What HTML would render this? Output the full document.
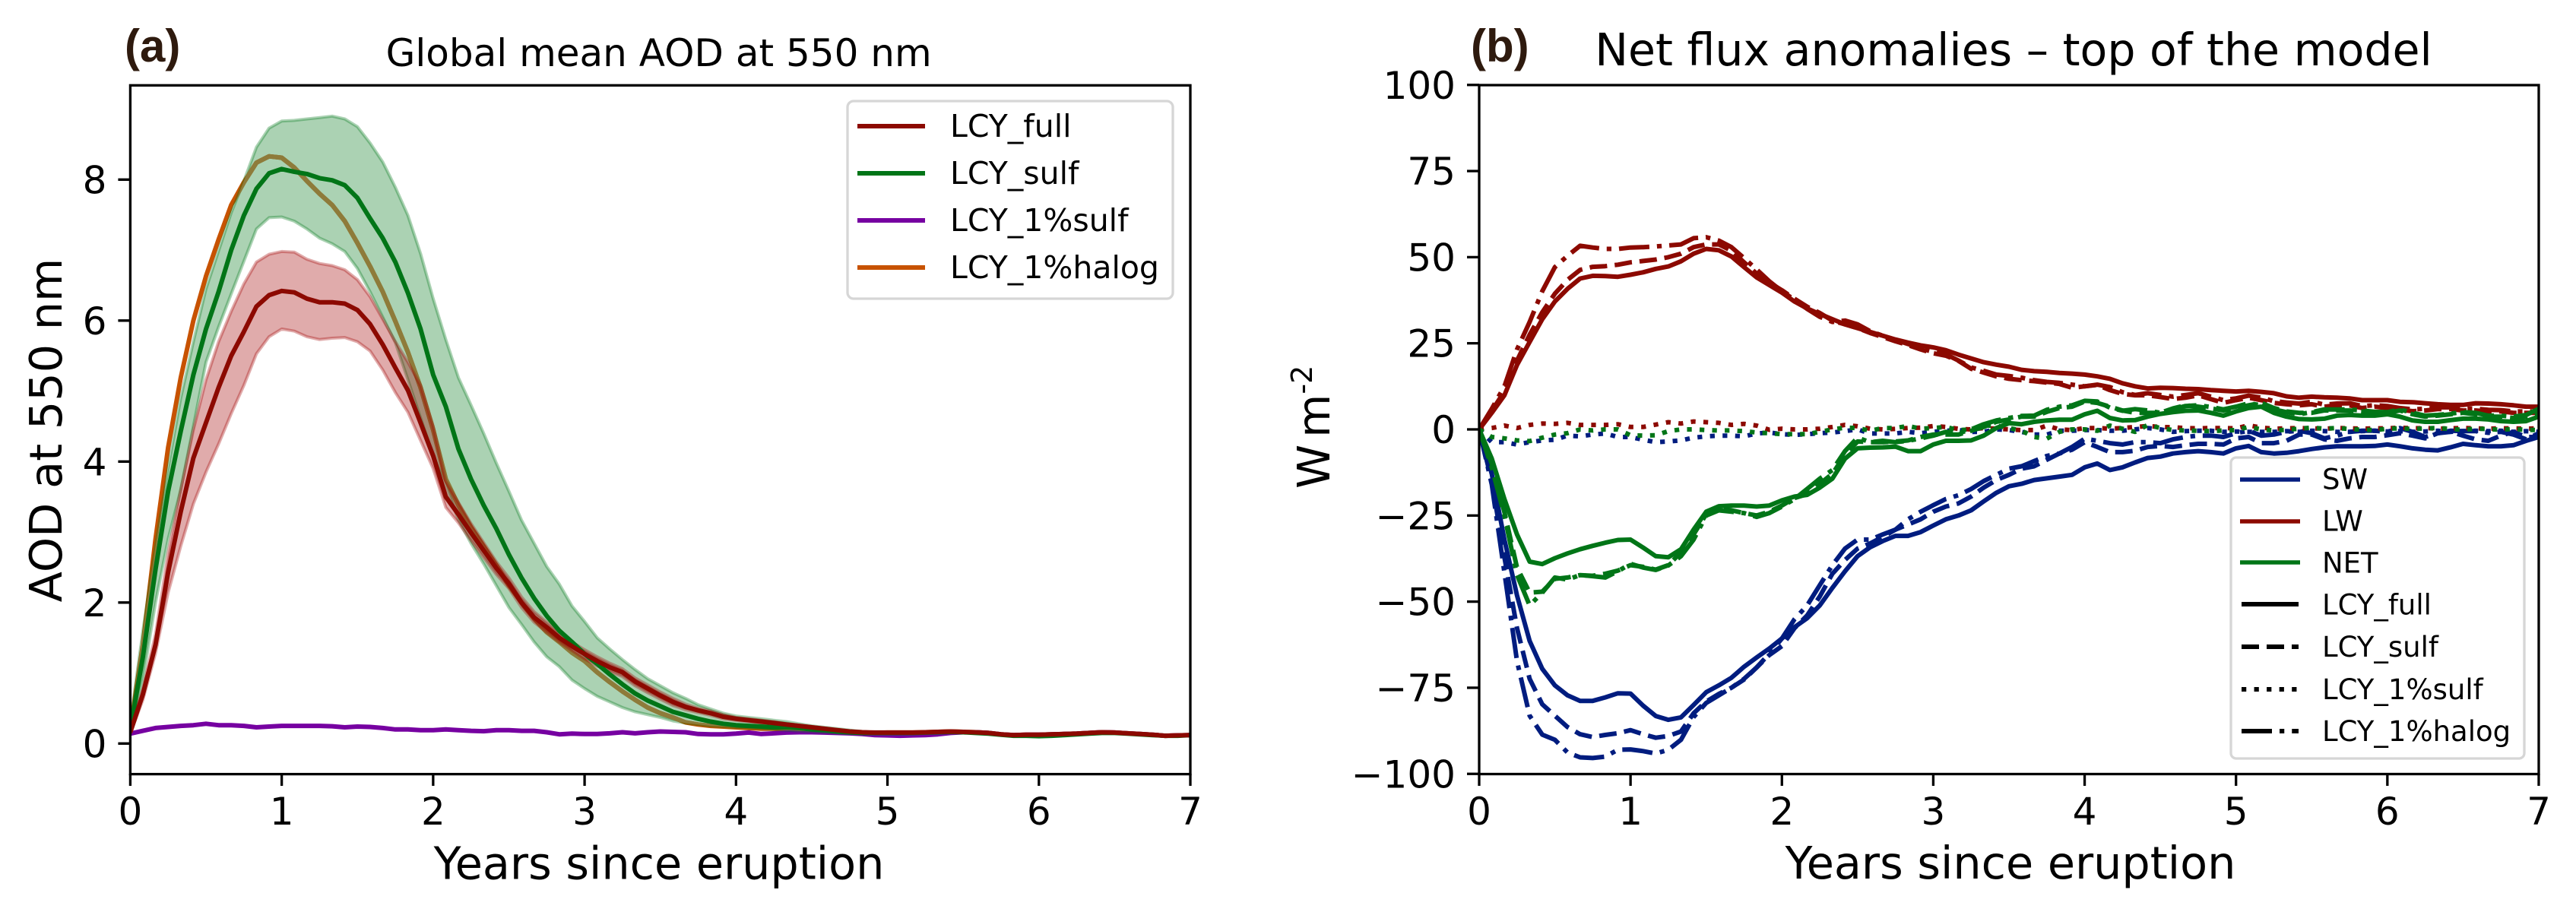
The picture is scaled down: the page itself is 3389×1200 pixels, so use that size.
<!DOCTYPE html>
<html lang="en">
<head>
<meta charset="utf-8">
<title>Global mean AOD and net flux anomalies</title>
<style>
html,body{margin:0;padding:0;background:#fff;width:3389px;height:1200px;overflow:hidden}
svg{display:block}
text{font-family:"DejaVu Sans",sans-serif;fill:#000}
.tick{font-size:50px}
.axl{font-size:58.8px}
.leg-a{font-size:41px}
.leg-b{font-size:37px}
.panel{font-family:"Liberation Sans",sans-serif;font-weight:700;font-size:60px;fill:#2e1a0e}
</style>
</head>
<body>
<svg id="figure" xmlns="http://www.w3.org/2000/svg" width="3389" height="1200" viewBox="0 0 3389 1200">
  <defs id="defs">
    <clipPath id="clip-a"><rect x="171.4" y="112.3" width="1394.6" height="906.3"/></clipPath>
    <clipPath id="clip-b"><rect x="1946" y="112" width="1394" height="906.5"/></clipPath>
  </defs>
  <rect x="0" y="0" width="3389" height="1200" fill="#fff"/>

  <g id="marks-a" clip-path="url(#clip-a)"></g>
  <g id="marks-b" clip-path="url(#clip-b)"></g>
  <g id="ticks"></g>

  <rect x="171.4" y="112.3" width="1394.6" height="906.3" fill="none" stroke="#000" stroke-width="3.3"/>
  <rect x="1946" y="112" width="1394" height="906.5" fill="none" stroke="#000" stroke-width="3.3"/>

  <text class="panel" x="164" y="81">(a)</text>
  <text x="866.7" y="87" font-size="50" text-anchor="middle">Global mean AOD at 550 nm</text>
  <text class="axl" x="867" y="1156.5" text-anchor="middle">Years since eruption</text>
  <text class="axl" transform="translate(81,566) rotate(-90)" text-anchor="middle">AOD at 550 nm</text>

  <text class="panel" x="1935" y="81">(b)</text>
  <text x="2649" y="86" font-size="58.5" text-anchor="middle">Net flux anomalies – top of the model</text>
  <text class="axl" x="2645" y="1156" text-anchor="middle">Years since eruption</text>
  <text class="axl" transform="translate(1749,643) rotate(-90)">W<tspan dx="9">m</tspan><tspan dy="-23" font-size="38">-2</tspan></text>

  <g>
    <rect x="1115" y="133" width="428" height="260" rx="8" ry="8" fill="#fff" fill-opacity=".8" stroke="#d6d6d6" stroke-width="3.3"/>
    <g><line x1="1128" x2="1217" y1="166" y2="166" stroke="#8C0900" stroke-width="6"/><text class="leg-a" x="1250" y="180">LCY_full</text></g>
    <g><line x1="1128" x2="1217" y1="228" y2="228" stroke="#017517" stroke-width="6"/><text class="leg-a" x="1250" y="242">LCY_sulf</text></g>
    <g><line x1="1128" x2="1217" y1="290" y2="290" stroke="#7600A1" stroke-width="6"/><text class="leg-a" x="1250" y="304">LCY_1%sulf</text></g>
    <g><line x1="1128" x2="1217" y1="352" y2="352" stroke="#C75200" stroke-width="6"/><text class="leg-a" x="1250" y="366">LCY_1%halog</text></g>
  </g>

  <g>
    <rect x="2935" y="602" width="386" height="396" rx="7" ry="7" fill="#fff" fill-opacity=".8" stroke="#d6d6d6" stroke-width="3.3"/>
    <g><line x1="2947" x2="3026" y1="631" y2="631" stroke="#001C7F" stroke-width="5.6"/><text class="leg-b" x="3055" y="643.5">SW</text></g>
    <g><line x1="2947" x2="3026" y1="686" y2="686" stroke="#8C0900" stroke-width="5.6"/><text class="leg-b" x="3055" y="698.5">LW</text></g>
    <g><line x1="2947" x2="3026" y1="740" y2="740" stroke="#017517" stroke-width="5.6"/><text class="leg-b" x="3055" y="753.5">NET</text></g>
    <g><line x1="2949" x2="3024" y1="795" y2="795" stroke="#000" stroke-width="6"/><text class="leg-b" x="3055" y="808.5">LCY_full</text></g>
    <g><line x1="2949" x2="3024" y1="851" y2="851" stroke="#000" stroke-width="6" stroke-dasharray="23 10"/><text class="leg-b" x="3055" y="864">LCY_sulf</text></g>
    <g><line x1="2949" x2="3024" y1="907" y2="907" stroke="#000" stroke-width="6" stroke-dasharray="6.25 10.3"/><text class="leg-b" x="3055" y="920">LCY_1%sulf</text></g>
    <g><line x1="2949" x2="3024" y1="962" y2="962" stroke="#000" stroke-width="6" stroke-dasharray="40 10 6.25 10"/><text class="leg-b" x="3055" y="975">LCY_1%halog</text></g>
  </g>
</svg>

<script>
// Tick values
const yearTicks = [0,1,2,3,4,5,6,7];
const aodTicks = [0,2,4,6,8];
const fluxTicks = [-100,-75,-50,-25,0,25,50,75,100];

// Panel (a): monthly global mean AOD, one row per year
const aodFull = [
.16,.70,1.40,2.43,3.29,4.05,4.55,5.05,5.50,5.84,6.20,6.36,
6.42,6.40,6.31,6.26,6.26,6.24,6.15,5.95,5.66,5.33,5.01,4.55,
4.08,3.50,3.25,2.99,2.74,2.49,2.27,2.0,1.79,1.65,1.50,1.38,
1.27,1.17,1.08,1.01,.88,.78,.68,.59,.52,.47,.43,.38,
.35,.33,.31,.29,.27,.25,.23,.21,.19,.17,.16,.155,
.155,.155,.155,.16,.165,.17,.165,.16,.15,.13,.12,.125,
.125,.13,.135,.14,.15,.16,.155,.145,.135,.125,.11,.115,
.12];
const aodFullUpper = [
.2,.78,1.55,2.7,3.6,4.45,5.16,5.7,6.13,6.52,6.83,6.94,
6.98,6.97,6.87,6.81,6.78,6.72,6.58,6.34,6.02,5.70,5.41,5.08,
4.5,3.72,3.42,3.12,2.85,2.58,2.35,2.08,1.87,1.72,1.57,1.44,
1.33,1.23,1.14,1.06,.93,.83,.73,.64,.56,.5,.46,.41,
.37,.35,.33,.31,.28,.26,.24,.22,.2,.18,.17,.16,
.155,.155,.155,.16,.165,.17,.165,.16,.15,.13,.12,.125,
.125,.13,.135,.14,.15,.16,.155,.145,.135,.125,.11,.115,
.12];
const aodFullLower = [
.14,.62,1.28,2.14,2.8,3.4,3.85,4.25,4.68,5.08,5.53,5.77,
5.88,5.85,5.77,5.73,5.75,5.76,5.70,5.57,5.30,4.98,4.70,4.3,
3.9,3.35,3.13,2.88,2.64,2.4,2.2,1.93,1.72,1.58,1.44,1.32,
1.2,1.1,1.02,.95,.82,.72,.63,.54,.48,.44,.4,.35,
.33,.31,.29,.27,.25,.23,.21,.19,.17,.16,.15,.15,
.155,.155,.155,.16,.165,.17,.165,.16,.15,.13,.12,.125,
.125,.13,.135,.14,.15,.16,.155,.145,.135,.125,.11,.115,
.12];
const aodSulf = [
.2,1.23,2.47,3.58,4.43,5.23,5.88,6.41,7.0,7.49,7.87,8.09,
8.15,8.11,8.08,8.02,7.99,7.92,7.74,7.45,7.17,6.83,6.39,5.88,
5.23,4.78,4.18,3.75,3.38,3.05,2.68,2.35,2.06,1.81,1.60,1.44,
1.27,1.13,.98,.84,.71,.61,.53,.45,.40,.35,.31,.28,
.26,.25,.24,.23,.23,.22,.2,.19,.17,.16,.15,.15,
.15,.15,.15,.155,.16,.165,.16,.15,.14,.125,.11,.11,
.105,.11,.12,.13,.14,.15,.15,.14,.13,.12,.11,.11,
.12];
const aodSulfUpper = [
.3,1.6,2.8,3.9,4.9,5.7,6.45,6.99,7.53,7.98,8.46,8.73,
8.83,8.84,8.86,8.88,8.90,8.86,8.75,8.52,8.25,7.89,7.49,6.95,
6.31,5.73,5.19,4.8,4.4,3.98,3.58,3.17,2.84,2.51,2.26,1.95,
1.73,1.5,1.34,1.19,1.05,.92,.82,.72,.64,.55,.49,.43,
.39,.37,.35,.33,.31,.28,.25,.23,.21,.19,.17,.16,
.16,.16,.16,.165,.17,.175,.17,.16,.15,.135,.12,.125,
.125,.13,.135,.145,.155,.165,.16,.15,.14,.13,.115,.12,
.125];
const aodSulfLower = [
.15,.9,2.0,2.9,3.6,4.5,5.41,5.91,6.38,6.84,7.30,7.46,
7.47,7.41,7.30,7.17,7.09,6.98,6.74,6.41,6.05,5.69,5.16,4.62,
4.08,3.67,3.17,2.84,2.55,2.24,1.93,1.69,1.44,1.23,1.09,.90,
.78,.67,.59,.51,.45,.41,.37,.32,.29,.27,.25,.24,
.23,.22,.21,.2,.19,.18,.17,.16,.15,.14,.14,.14,
.14,.14,.145,.15,.155,.16,.155,.145,.135,.115,.105,.105,
.1,.105,.115,.125,.135,.145,.145,.135,.125,.115,.105,.105,
.115];
const aodOnePctSulf = [
.14,.18,.22,.235,.25,.26,.28,.26,.26,.25,.23,.24,
.25,.25,.25,.25,.245,.23,.24,.235,.22,.2,.2,.19,
.19,.2,.19,.18,.175,.19,.19,.18,.18,.16,.13,.14,
.135,.135,.145,.16,.145,.16,.17,.165,.16,.135,.13,.13,
.14,.155,.135,.145,.155,.16,.16,.155,.15,.145,.135,.12,
.115,.11,.115,.12,.13,.15,.16,.16,.15,.13,.12,.125,
.125,.13,.135,.14,.15,.16,.155,.145,.135,.125,.11,.115,
.12];
const aodOnePctHalog = [
.2,1.4,2.9,4.2,5.19,6.0,6.63,7.15,7.64,7.96,8.24,8.33,
8.31,8.17,7.98,7.80,7.64,7.41,7.1,6.77,6.41,5.99,5.55,5.05,
4.45,3.75,3.38,3.07,2.80,2.53,2.24,2.0,1.77,1.58,1.44,1.29,
1.17,1.01,.87,.74,.62,.51,.43,.37,.3,.27,.25,.24,
.23,.22,.21,.21,.2,.19,.19,.18,.17,.16,.15,.15,
.155,.155,.155,.16,.165,.17,.165,.16,.15,.13,.12,.125,
.125,.13,.135,.14,.15,.16,.155,.145,.135,.125,.11,.115,
.12];

// Panel (b): monthly flux anomalies (W m-2), one row per year
const swFull = [
0,-12.9,-32,-48.2,-61.4,-69.5,-74.3,-77.2,-78.8,-78.8,-77.8,-76.6,
-76.7,-80.2,-83.2,-84.3,-83.6,-80,-76.3,-74.3,-72.1,-68.9,-66.2,-63.6,
-60.7,-57.4,-54.8,-51.1,-46,-41.2,-36.8,-34.2,-32.4,-30.9,-30.9,-29.8,
-27.9,-26.1,-25,-23.5,-20.9,-18.4,-16.5,-15.8,-14.7,-14.2,-13.7,-13.2,
-11,-9.9,-11.8,-11,-9.6,-8.3,-7.9,-7,-6.6,-6.3,-6.6,-7,
-5.5,-4.8,-6.6,-7,-6.8,-6.3,-5.7,-5.2,-4.9,-4.9,-4.9,-4.8,
-4.4,-4.9,-5.5,-5.9,-6.1,-5.2,-4.2,-4.6,-4.9,-4.9,-4.6,-3.3,
-2.2];
const swSulf = [
0,-15,-37.1,-57.7,-72.4,-79.8,-83.1,-86.4,-88.5,-89.3,-88.7,-88.2,
-87.3,-88.5,-89.5,-89,-87.7,-82.4,-79,-76.8,-75,-72.6,-69.1,-65.5,
-62.9,-57.7,-54,-48.5,-41.9,-37.9,-34.6,-33.1,-31.2,-29.1,-27.6,-26.1,
-23.9,-22.4,-21.5,-19.5,-16.9,-14.7,-13.2,-11.4,-10.7,-8.8,-7,-5.9,
-3.7,-5.1,-6.6,-6.6,-6.2,-5.1,-4.8,-5.1,-4.6,-4.2,-4.2,-4.4,
-2.6,-2.2,-4,-4,-3.3,-1.5,-1.5,-2.9,-3.3,-2.6,-2.2,-2.2,
-1.7,-1.1,-1.8,-2.6,-1.1,-.7,-1.8,-2.9,-3.3,-1.8,-.7,-2.2,
-2.2];
const swOnePctSulf = [
0,-3.7,-3.7,-4.4,-3.7,-3.2,-3,-1.8,-2,-1.5,-1.2,-2.2,
-2.2,-3,-3.7,-3.5,-3.2,-2.4,-2,-1.8,-1.8,-2,-1.2,-.9,
-1.4,-1.6,-1.4,-1.1,-.9,-.5,0,-1.2,-1.2,-1.2,-.7,-1.1,
-.7,-.4,-.2,-.7,-.7,0,-.2,-.7,-1.5,-1.5,-.4,-.4,
-.2,-.2,-.4,-.4,0,.4,0,-.7,-.5,-.4,-.4,-.7,
-.6,-.7,-.7,-.7,-.5,-.7,-.4,-.5,-.7,-.7,-.5,-.4,
-.6,-.5,-.7,-.6,-.4,-.7,-.5,-.4,-.5,-.4,-.7,-.5,
-.7];
const swOnePctHalog = [
0,-16,-41.5,-67.3,-83.1,-88.6,-90.1,-93.8,-95.2,-95.4,-95,-93,
-92.9,-93.4,-94.1,-93,-90.1,-83.5,-79.4,-77.2,-75,-72.4,-69.1,-65.1,
-60.7,-55.1,-51.1,-45.2,-39.4,-34.6,-32,-32,-30.5,-29.1,-26.1,-23.9,
-22,-20.2,-19.1,-17.3,-15,-13.2,-11.4,-10.7,-9.2,-7.7,-7,-5.1,
-2.7,-3.3,-4,-4.4,-3.7,-3.7,-4,-2.9,-2.2,-1.8,-1.8,-2.2,
-1.1,-.4,-1.8,-1.5,-.7,-.4,-1.1,-2.6,-1.8,-.7,-.4,-.4,
-.7,.4,-.7,-2.2,-1.1,-.4,-.5,-.5,-1,-.7,-1.5,-2.9,
-1.1];
const lwFull = [
0,4.8,9.9,18.7,25.4,32,37.1,40.8,43.8,44.6,44.5,44.3,
44.9,45.6,46.6,47.3,48.8,51,52.4,52,50.2,47.1,44.1,41.9,
39.7,37.1,35.1,33.5,32,30.5,29.4,28.3,27.2,26.1,25.2,24.4,
23.8,23,21.7,20.6,19.5,18.8,18.2,17.3,16.9,16.7,16.4,16.2,
15.9,15.4,14.7,13.4,12.5,11.9,12.1,12,11.8,11.7,11.4,11.2,
11,11.2,10.9,10.5,9.6,9.2,9.5,9.3,9.2,9,8.5,8.5,
8.5,8,7.9,7.6,7.3,7.1,7.1,7.6,7.5,7.3,7,6.6,
6.6];
const lwSulf = [
0,5.4,11,20,27.5,34,39.4,43.4,46.3,47.2,47.4,47.8,
48.5,48.9,49.3,50,51,52.9,53.7,53.7,51.9,48.5,45.2,42.6,
40.4,37.9,35.6,33.8,31.6,30.5,29.4,28,26.8,25.6,24.5,23.2,
22.1,21.4,19.9,17.6,16.5,15.4,14.7,14.3,14,13.6,13.2,12.1,
12.5,12.9,11.4,10.3,9.9,9.9,9.4,8.8,9.2,9.9,8.8,7.7,
8.5,9.2,8.5,7.7,7.3,7,7.3,6.6,7,7,6.2,6.6,
6.2,5.7,5.3,5.5,5.9,5.9,5.5,5.5,5.2,5.2,4.8,4.8,
4.8];
const lwOnePctSulf = [
0,.4,1.1,.4,1.3,1.7,1.6,1.9,1.3,1.3,1.3,1.5,
.7,.7,1.4,2.1,1.7,2.3,2.1,1.9,1.3,1.6,1.1,-.1,
.2,0,0,.2,.7,1.3,.9,.2,0,.15,.4,.5,
.96,.7,.15,0,.4,.2,0,-.2,-.2,1.1,0,-.2,
.4,.4,.2,.4,.7,.96,.7,.6,.4,.3,.4,.4,
.3,1.2,.5,.2,.3,.4,.3,.2,.4,.3,.2,.3,
.3,.5,.3,.4,.2,.3,.4,.3,.2,.3,.3,.2,
.3];
const lwOnePctHalog = [
0,6,12.5,23.2,31.2,40.1,47.1,50.4,53.3,52.8,52.4,52.4,
52.8,52.9,53.1,53.4,53.7,55.5,55.8,54.8,52.9,49.7,46.4,43,
40.1,37.6,35,32.7,31.2,31.6,30.5,28.5,27.2,26,24.8,23.5,
22.5,21.8,20,18,17,15.9,15.5,15,14.3,13.8,13.5,13,
12.5,13,12.3,10.8,10,10.5,10,9.5,10,10.5,9.5,8.5,
9,9.8,9.2,8.2,7.8,7.5,8,7.2,7.5,7.6,6.8,7,
6.8,6.2,5.8,6,6.4,6.4,6,6,5.7,5.6,5.2,5.2,
5.2];
const netFull = [
0,-8.5,-20.2,-30.5,-38.4,-39.1,-37.4,-36,-34.8,-33.8,-32.9,-32.1,
-32,-34.3,-36.8,-37.1,-34.8,-29.1,-23.9,-22.3,-22.1,-22.1,-22.4,-22.1,
-20.6,-19.5,-19,-16.9,-14.3,-8.5,-5.5,-5.3,-5.2,-5,-6.3,-6.3,
-4.4,-3.3,-3.3,-3.2,-1.8,.4,1.8,1.5,2.2,2.6,2.8,2.8,
4.4,5.4,3.3,2.6,2.7,3.7,4.5,5,5.4,5.5,4.8,4,
5.2,6.2,6.6,4.8,3.7,3,2.9,3.1,4,4.2,4,4,
4.4,3.7,2.6,2.2,2.2,2.7,3.1,3.1,2.9,2.4,2.2,2.4,
3.7];
const netSulf = [
0,-10,-24,-40.1,-47.4,-47.1,-43.4,-43,-42.3,-42.5,-41.9,-41,
-39.4,-39.9,-40.7,-39.4,-35.7,-30.5,-24.6,-23,-23.5,-24.3,-25,-23.9,
-22.1,-19.9,-18.8,-15.8,-12.9,-7.4,-3.5,-3.7,-3.7,-3.5,-3.2,-2.2,
-1.5,-1.5,-1.5,-.4,.7,2.2,2.9,3.7,3.7,5.1,6.2,6.6,
8.1,7.7,6.6,5.5,4.8,4.8,4.8,6.1,7,6.6,6.1,5.5,
6.2,7,7.7,6.2,5.2,4.8,4.8,5.5,5.5,5.5,5.2,4.8,
4.8,5.5,4.4,3.7,4,4.4,4.8,4.4,3.7,3.7,3.3,3.7,
4.4];
const netOnePctSulf = [
0,-2.2,-2.6,-3.2,-3.4,-2.4,-1.5,-1.1,0,-.3,0,0,
-1.7,-1.8,-1.7,-.5,0,0,-.2,-.3,-.3,-.5,-.9,-1.1,
-1.4,-1.4,-1.4,-.7,0,.5,.4,-.4,.4,.4,1,.2,
.4,.7,-.2,0,1.1,1.1,.4,-.4,-2.2,-2.7,-.7,0,
0,-.4,1.1,.2,-.7,1.3,.4,-.2,-.3,-.4,-.5,-.3,
-.2,.7,0,-.3,-.1,.2,.5,.2,.4,.1,-.1,-.2,
.2,.3,.1,.3,.4,.1,-.1,.2,.1,-.1,.1,-.1,
-.2];
const netOnePctHalog = [
0,-11,-25,-42.3,-51.1,-47.4,-43,-43.6,-42.3,-42.6,-43,-41.2,
-39,-40.1,-40.8,-39.5,-36.8,-32,-25,-23.5,-23.9,-24.3,-25.4,-24.3,
-22.4,-20.2,-17.3,-14.3,-11.8,-6.3,-2.4,-3.7,-3.3,-3.7,-3.3,-2.6,
-1.8,-.7,-1.1,0,1.5,2.6,3.3,3.9,4,5.7,6.6,7,
8.3,8.1,6.3,5.4,5.9,5.5,4.8,5.8,6.8,7,6.5,5.8,
6.6,7.6,7,5.8,5,4.4,5,5.8,5.8,5.8,5.5,5.1,
5,5.8,4.8,4,4.2,4.6,5,4.8,4,4,3.7,4.2,
6];

// Axis functions
function xYearsA(v){ return 171.4 + v * 199.23; }
function yAod(v){ return 978.3 - v * 92.75; }
function xYearsB(v){ return 1946 + v * 199.14; }
function yFlux(v){ return 565 - v * 4.5325; }

const SVGNS = 'http://www.w3.org/2000/svg';
const DARK_RED = '#8C0900', DARK_GREEN = '#017517', DARK_BLUE = '#001C7F', PURPLE = '#7600A1', ORANGE = '#C75200', OLIVE = '#8E7B3A', BAND_RED = '#A10000';
const DASH_SULF = '23 10', DASH_DOT = '6.25 10.3', DASH_HALOG = '40 10 6.25 10';

function linePoints(values, xf, yf){
  return values.map(function(v, i){ return xf(i / 12).toFixed(1) + ',' + yf(v).toFixed(1); });
}
function makePath(parent, d, stroke, width, dash){
  const p = document.createElementNS(SVGNS, 'path');
  p.setAttribute('d', d);
  p.setAttribute('fill', 'none');
  p.setAttribute('stroke', stroke);
  p.setAttribute('stroke-width', width);
  p.setAttribute('stroke-linejoin', 'round');
  if (dash) p.setAttribute('stroke-dasharray', dash);
  parent.appendChild(p);
  return p;
}
function drawLine(parent, values, xf, yf, stroke, dash){
  return makePath(parent, 'M' + linePoints(values, xf, yf).join('L'), stroke, 6, dash);
}
function bandPath(upper, lower, xf, yf){
  const top = linePoints(upper, xf, yf);
  const bottom = linePoints(lower, xf, yf).reverse();
  return 'M' + top.concat(bottom).join('L') + 'Z';
}
function drawBand(parent, upper, lower, xf, yf, color){
  const p = makePath(parent, bandPath(upper, lower, xf, yf), color, 4);
  p.setAttribute('fill', color);
  p.setAttribute('fill-opacity', '0.33');
  p.setAttribute('stroke-opacity', '0.33');
  return p;
}

const marksA = document.getElementById('marks-a');
const marksB = document.getElementById('marks-b');
const ticksGroup = document.getElementById('ticks');

// Clip for the part of the halogen line seen through the green band
const sulfClip = document.createElementNS(SVGNS, 'clipPath');
sulfClip.setAttribute('id', 'clip-sulf-band');
const sulfClipShape = document.createElementNS(SVGNS, 'path');
sulfClipShape.setAttribute('d', bandPath(aodSulfUpper, aodSulfLower, xYearsA, yAod));
sulfClip.appendChild(sulfClipShape);
document.getElementById('defs').appendChild(sulfClip);

// Panel (a) marks
let el;
el = drawLine(marksA, aodOnePctHalog, xYearsA, yAod, ORANGE);


el = drawLine(marksA, aodOnePctSulf, xYearsA, yAod, PURPLE);


el = drawBand(marksA, aodSulfUpper, aodSulfLower, xYearsA, yAod, DARK_GREEN);


el = drawLine(marksA, aodOnePctHalog, xYearsA, yAod, OLIVE);
el.setAttribute('clip-path', 'url(#clip-sulf-band)');


el = drawBand(marksA, aodFullUpper, aodFullLower, xYearsA, yAod, BAND_RED);


el = drawLine(marksA, aodSulf, xYearsA, yAod, DARK_GREEN);


el = drawLine(marksA, aodFull, xYearsA, yAod, DARK_RED);



// Panel (b) marks
el = drawLine(marksB, swFull, xYearsB, yFlux, DARK_BLUE);


el = drawLine(marksB, swSulf, xYearsB, yFlux, DARK_BLUE, DASH_SULF);


el = drawLine(marksB, swOnePctSulf, xYearsB, yFlux, DARK_BLUE, DASH_DOT);


el = drawLine(marksB, swOnePctHalog, xYearsB, yFlux, DARK_BLUE, DASH_HALOG);


el = drawLine(marksB, lwFull, xYearsB, yFlux, DARK_RED);


el = drawLine(marksB, lwSulf, xYearsB, yFlux, DARK_RED, DASH_SULF);


el = drawLine(marksB, lwOnePctSulf, xYearsB, yFlux, DARK_RED, DASH_DOT);


el = drawLine(marksB, lwOnePctHalog, xYearsB, yFlux, DARK_RED, DASH_HALOG);


el = drawLine(marksB, netFull, xYearsB, yFlux, DARK_GREEN);


el = drawLine(marksB, netSulf, xYearsB, yFlux, DARK_GREEN, DASH_SULF);


el = drawLine(marksB, netOnePctSulf, xYearsB, yFlux, DARK_GREEN, DASH_DOT);


el = drawLine(marksB, netOnePctHalog, xYearsB, yFlux, DARK_GREEN, DASH_HALOG);



// Ticks
function tickLabel(v){ return String(v).replace('-', '\u2212'); }
function drawXTick(v, xf, prefix){
  const x = xf(v);
  const mark = document.createElementNS(SVGNS, 'line');
  mark.setAttribute('x1', x); mark.setAttribute('x2', x);
  mark.setAttribute('y1', 1018); mark.setAttribute('y2', 1034);
  mark.setAttribute('stroke', '#000'); mark.setAttribute('stroke-width', 3.3);
  
  
  ticksGroup.appendChild(mark);
  const label = document.createElementNS(SVGNS, 'text');
  label.setAttribute('class', 'tick');
  label.setAttribute('x', x); label.setAttribute('y', 1085);
  label.setAttribute('text-anchor', 'middle');
  label.textContent = tickLabel(v);
  
  
  ticksGroup.appendChild(label);
}
function drawYTick(v, yf, spineX, prefix){
  const y = yf(v);
  const mark = document.createElementNS(SVGNS, 'line');
  mark.setAttribute('x1', spineX - 16); mark.setAttribute('x2', spineX);
  mark.setAttribute('y1', y); mark.setAttribute('y2', y);
  mark.setAttribute('stroke', '#000'); mark.setAttribute('stroke-width', 3.3);
  
  
  ticksGroup.appendChild(mark);
  const label = document.createElementNS(SVGNS, 'text');
  label.setAttribute('class', 'tick');
  label.setAttribute('x', spineX - 31); label.setAttribute('y', y + 18);
  label.setAttribute('text-anchor', 'end');
  label.textContent = tickLabel(v);
  
  
  ticksGroup.appendChild(label);
}
yearTicks.forEach(function(v){ drawXTick(v, xYearsA, 'aod'); });
aodTicks.forEach(function(v){ drawYTick(v, yAod, 171.4, 'aod'); });
yearTicks.forEach(function(v){ drawXTick(v, xYearsB, 'flux'); });
fluxTicks.forEach(function(v){ drawYTick(v, yFlux, 1946, 'flux'); });
</script>
</body>
</html>
